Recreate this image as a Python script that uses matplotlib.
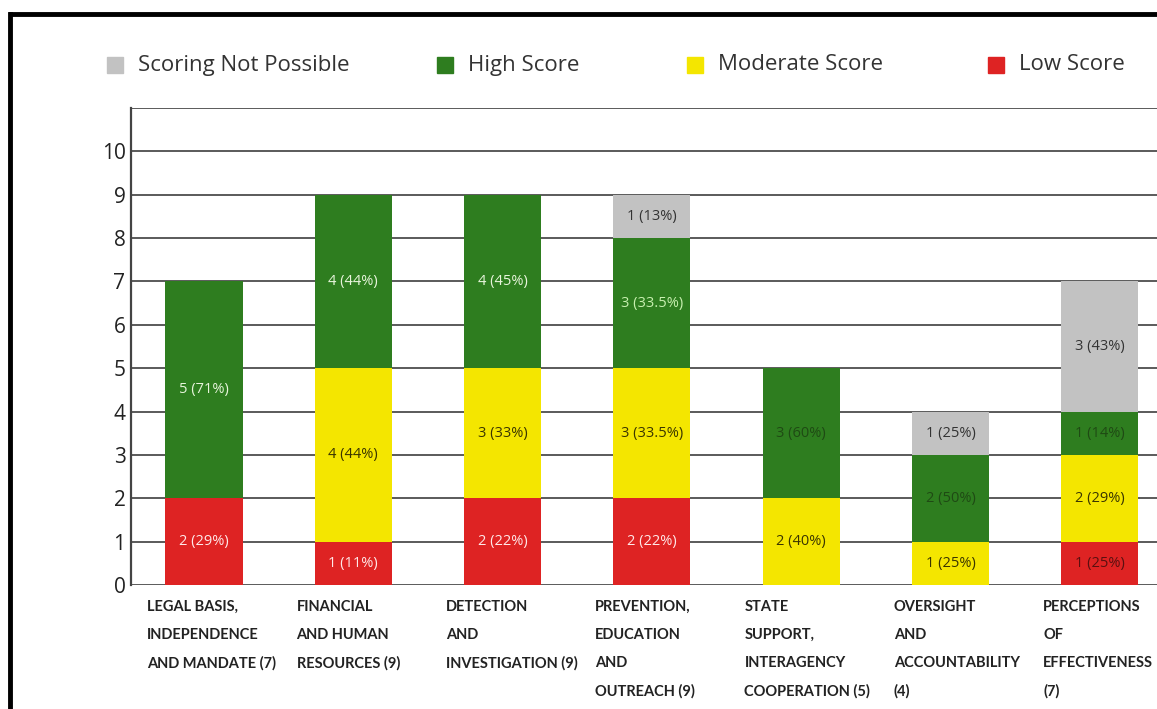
import matplotlib
matplotlib.use("Agg")
import matplotlib.pyplot as plt
from matplotlib.patches import Rectangle
from matplotlib.lines import Line2D

categories = [
    "LEGAL BASIS,\nINDEPENDENCE\nAND MANDATE (7)",
    "FINANCIAL\nAND HUMAN\nRESOURCES (9)",
    "DETECTION\nAND\nINVESTIGATION (9)",
    "PREVENTION,\nEDUCATION\nAND\nOUTREACH (9)",
    "STATE\nSUPPORT,\nINTERAGENCY\nCOOPERATION (5)",
    "OVERSIGHT\nAND\nACCOUNTABILITY\n(4)",
    "PERCEPTIONS\nOF\nEFFECTIVENESS\n(7)",
]
low = [2, 1, 2, 2, 0, 0, 1]
moderate = [0, 4, 3, 3, 2, 1, 2]
high = [5, 4, 4, 3, 3, 2, 1]
not_possible = [0, 0, 0, 1, 0, 1, 3]

low_labels = ["2 (29%)", "1 (11%)", "2 (22%)", "2 (22%)", "", "", "1 (25%)"]
moderate_labels = ["", "4 (44%)", "3 (33%)", "3 (33.5%)", "2 (40%)", "1 (25%)", "2 (29%)"]
high_labels = ["5 (71%)", "4 (44%)", "4 (45%)", "3 (33.5%)", "3 (60%)", "2 (50%)", "1 (14%)"]
np_labels = ["", "", "", "1 (13%)", "", "1 (25%)", "3 (43%)"]

series_names = ["Scoring Not Possible", "High Score", "Moderate Score", "Low Score"]
yticks = list(range(0, 11))

C_GRAY = "#c2c2c2"
C_GREEN = "#2e7d1f"
C_YELLOW = "#f4e600"
C_RED = "#de2323"

W, H = 1157, 709
fig = plt.figure(figsize=(W / 100, H / 100), dpi=100)
ax = fig.add_axes([131 / W, 1 - 585 / H, 1 - 131 / W, (585 - 108) / H])

x = list(range(len(categories)))
bw = 0.516
ax.bar(x, low, bw, color=C_RED, zorder=3)
ax.bar(x, moderate, bw, bottom=low, color=C_YELLOW, zorder=3)
bot3 = [a + b for a, b in zip(low, moderate)]
ax.bar(x, high, bw, bottom=bot3, color=C_GREEN, zorder=3)
bot4 = [a + b for a, b in zip(bot3, high)]
ax.bar(x, not_possible, bw, bottom=bot4, color=C_GRAY, zorder=3)

green_text = ["#e8f5dc", "#e8f5dc", "#e8f5dc", "#c8f0b0", "#1f4a14", "#1f4a14", "#1f4a14"]
red_text = ["#ffe8e8", "#ffe8e8", "#ffe8e8", "#ffe8e8", "#ffe8e8", "#ffe8e8", "#5a1010"]

lab_font = dict(family=["Open Sans", "DejaVu Sans"], fontsize=10.5, ha="center", va="center", zorder=5)
for i in x:
    if low_labels[i]:
        ax.text(i, low[i] / 2, low_labels[i], color=red_text[i], **lab_font)
    if moderate_labels[i]:
        ax.text(i, low[i] + moderate[i] / 2, moderate_labels[i], color="#3a3500", **lab_font)
    if high_labels[i]:
        ax.text(i, bot3[i] + high[i] / 2, high_labels[i], color=green_text[i], **lab_font)
    if np_labels[i]:
        ax.text(i, bot4[i] + not_possible[i] / 2, np_labels[i], color="#333333", **lab_font)

ax.set_xlim(-0.489, 6.383)
ax.set_ylim(0, 11)
ax.set_yticks(yticks + [11])
ax.set_yticklabels([str(t) for t in yticks] + [""], fontsize=15,
                   family=["Open Sans", "DejaVu Sans"], color="#222222")
ax.tick_params(axis="y", length=0, pad=4)
ax.grid(axis="y", color="#5a5a5a", linewidth=1.4, zorder=1)
for s in ["top", "right", "bottom"]:
    ax.spines[s].set_visible(False)
ax.spines["left"].set_color("#444444")
ax.spines["left"].set_linewidth(1.6)
ax.set_xticks([])

# category labels, left aligned under each bar
for i, c in enumerate(categories):
    ax.annotate(c, xy=(i - 0.38, 0), xycoords="data", xytext=(0, -11), textcoords="offset points",
                ha="left", va="top", fontsize=10.5, fontweight="bold", color="#222222",
                family=["Liberation Sans Narrow", "Lato", "DejaVu Sans"], linespacing=2.25,
                annotation_clip=False)

# legend
legend_x = [107, 437, 687, 988]
for hx, name, col in zip(legend_x, series_names, [C_GRAY, C_GREEN, C_YELLOW, C_RED]):
    fig.patches.append(Rectangle((hx / W, 1 - 73 / H), 16 / W, 16 / H, transform=fig.transFigure,
                                 color=col, figure=fig))
    fig.text((hx + 31) / W, 1 - 65 / H, name, fontsize=16, color="#333333",
             family=["Open Sans", "DejaVu Sans"], va="center", ha="left")

# black border frame (top and left)
fig.add_artist(Line2D([11 / W, 1], [1 - 14 / H, 1 - 14 / H], transform=fig.transFigure,
                      color="black", linewidth=3.5))
fig.add_artist(Line2D([10 / W, 10 / W], [0, 1 - 14 / H], transform=fig.transFigure,
                      color="black", linewidth=3.5))

fig.savefig("out.png", dpi=100)
